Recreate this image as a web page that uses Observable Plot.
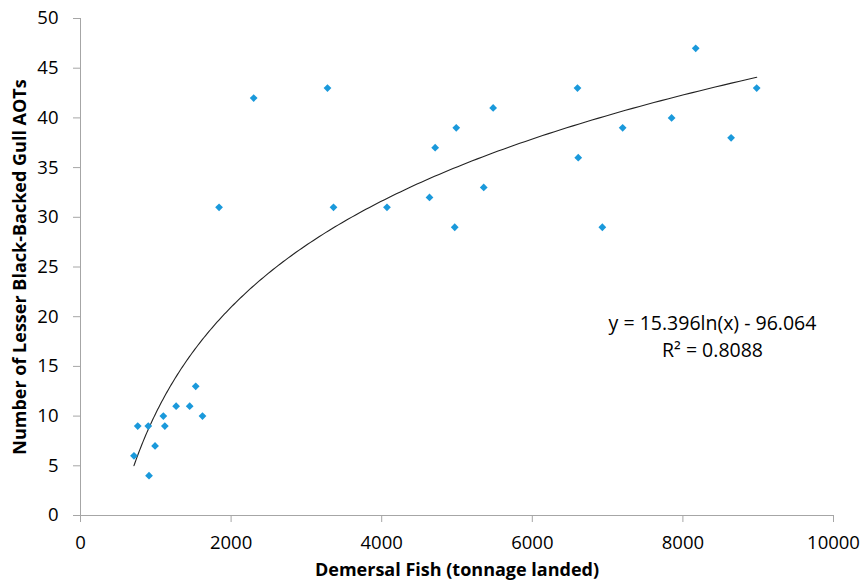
<!DOCTYPE html>
<html>
<head>
<meta charset="utf-8">
<script src="https://cdn.jsdelivr.net/npm/d3@7"></script>
<script src="https://cdn.jsdelivr.net/npm/@observablehq/plot@0.6"></script>
<style>
  html, body { margin: 0; padding: 0; background: #fff; }
  #chart { width: 863px; height: 581px; }
</style>
</head>
<body>
<div id="chart"></div>
<script>
// Demersal fish landed (tonnes) and Lesser Black-Backed Gull AOTs
const fishTonnage = [710, 760, 900, 910, 990, 1100, 1120, 1270, 1450, 1530, 1620,
  1840, 2300, 3280, 3360, 4070, 4635, 4710, 4970, 4990, 5355, 5480,
  6600, 6610, 6930, 7200, 7850, 8170, 8640, 8980];
const gullAOTs = [6, 9, 9, 4, 7, 10, 9, 11, 11, 13, 10,
  31, 42, 43, 31, 31, 32, 37, 29, 39, 33, 41,
  43, 36, 29, 39, 40, 47, 38, 43];

// Logarithmic trendline as stated on the chart
const trendSlope = 15.396;
const trendIntercept = -96.064;
const trendR2 = 0.8088;
const equationLines = [`y = ${trendSlope}ln(x) - ${Math.abs(trendIntercept)}`, `R² = ${trendR2}`];

const xTicks = [0, 2000, 4000, 6000, 8000, 10000];
const yTicks = [0, 5, 10, 15, 20, 25, 30, 35, 40, 45, 50];

const points = fishTonnage.map((x, i) => ({x, y: gullAOTs[i]}));
const xMin = d3.min(fishTonnage), xMax = d3.max(fishTonnage);
const trend = d3.range(0, 201).map(i => {
  const x = xMin * Math.pow(xMax / xMin, i / 200);
  return {x, y: trendSlope * Math.log(x) + trendIntercept};
});

// square diamond (equal width and height), like the spreadsheet marker
const squareDiamond = {
  draw(context, size) {
    const h = Math.sqrt(size / 2);
    context.moveTo(0, -h);
    context.lineTo(h, 0);
    context.lineTo(0, h);
    context.lineTo(-h, 0);
    context.closePath();
  }
};

const font = "'Open Sans', sans-serif";
const axisColor = "#a6a6a6";

const chart = Plot.plot({
  width: 863,
  height: 581,
  marginLeft: 80,
  marginRight: 30,
  marginTop: 18,
  marginBottom: 66,
  style: {fontFamily: font, fontSize: "18px", color: "#000", background: "#fff", overflow: "visible"},
  x: {domain: [0, 10000], ticks: xTicks, label: null},
  y: {domain: [0, 50], ticks: yTicks, label: null},
  marks: [
    Plot.ruleX([0], {stroke: axisColor, strokeWidth: 1}),
    Plot.ruleY([0], {stroke: axisColor, strokeWidth: 1}),
    Plot.axisX({ticks: xTicks, tickSize: 7, tickPadding: 13, stroke: axisColor, fill: "#000", fontSize: 18.5, tickFormat: d => String(d)}),
    Plot.axisY({ticks: yTicks, tickSize: 7, tickPadding: 15, stroke: axisColor, fill: "#000", fontSize: 18.5, tickFormat: d => String(d)}),
    Plot.line(trend, {x: "x", y: "y", stroke: "#222", strokeWidth: 1.1}),
    Plot.dot(points, {x: "x", y: "y", symbol: squareDiamond, fill: "#1a99db", r: 3.1}),
    Plot.text([equationLines[0]], {frameAnchor: "top-left", lineAnchor: "middle", dx: 632, dy: 305, text: d => d, textAnchor: "middle", fontSize: 19.5, fill: "#000"}),
    Plot.text([equationLines[1]], {frameAnchor: "top-left", lineAnchor: "middle", dx: 632, dy: 332, text: d => d, textAnchor: "middle", fontSize: 19.5, fill: "#000"}),
    Plot.text(["Demersal Fish (tonnage landed)"], {frameAnchor: "bottom", lineAnchor: "bottom", dy: 60, text: d => d, fontWeight: "bold", fontSize: 18, fill: "#000"}),
    Plot.text(["Number of Lesser Black-Backed Gull AOTs"], {frameAnchor: "left", dx: -60, textAnchor: "middle", rotate: -90, text: d => d, fontWeight: "bold", fontSize: 18, fill: "#000"})
  ]
});
document.getElementById("chart").appendChild(chart);
</script>
</body>
</html>
